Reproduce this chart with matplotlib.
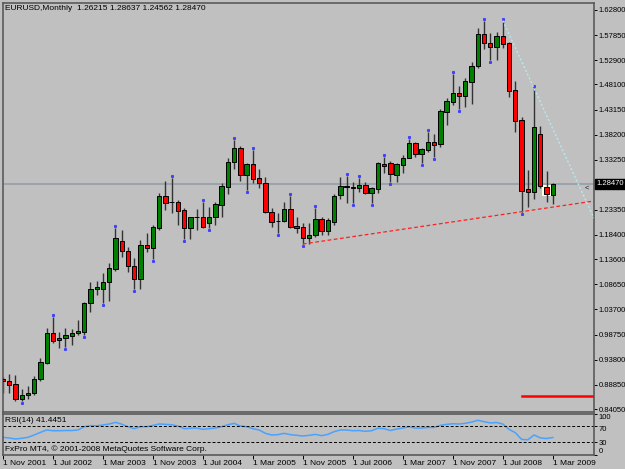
import matplotlib
matplotlib.use("Agg")
import matplotlib.pyplot as plt
import matplotlib.transforms as mtransforms
import numpy as np

plt.rcParams['font.family'] = ['Liberation Sans Narrow', 'Liberation Sans', 'DejaVu Sans']

# EURUSD monthly, Nov 2001 .. Mar 2009
opens = [0.8997, 0.8952, 0.8898, 0.8596, 0.8675, 0.8715, 0.8991, 0.9307, 0.9905, 0.9761,
         0.9812, 0.9852, 0.9899, 0.9931, 1.0491, 1.0780, 1.0774, 1.0918, 1.1168, 1.1721,
         1.1523, 1.1227, 1.0977, 1.1648, 1.1577, 1.1983, 1.2609, 1.2491, 1.2485, 1.2327,
         1.1977, 1.2194, 1.2200, 1.2070, 1.2188, 1.2426, 1.2793, 1.3274, 1.3562, 1.3023,
         1.3235, 1.2958, 1.2866, 1.2299, 1.2116, 1.2122, 1.2347, 1.2017, 1.1991, 1.1786,
         1.1839, 1.2155, 1.1918, 1.2102, 1.2629, 1.2781, 1.2787, 1.2767, 1.2820, 1.2674,
         1.2753, 1.3241, 1.3266, 1.3029, 1.3227, 1.3365, 1.3655, 1.3444, 1.3517, 1.3681,
         1.3629, 1.4273, 1.4470, 1.4636, 1.4583, 1.4865, 1.5181, 1.5800, 1.5623, 1.5556,
         1.5767, 1.5623, 1.4701, 1.4109, 1.2741, 1.2694, 1.3839, 1.2781, 1.26215]
highs = [0.9043, 0.9090, 0.9076, 0.8794, 0.8859, 0.9050, 0.9418, 1.0004, 1.0227, 0.9931,
         0.9998, 0.9984, 1.0162, 1.0523, 1.0906, 1.0937, 1.1083, 1.1281, 1.1971, 1.1938,
         1.1608, 1.1380, 1.1741, 1.1873, 1.2037, 1.2662, 1.2905, 1.2958, 1.2530, 1.2366,
         1.2200, 1.2347, 1.2496, 1.2386, 1.2496, 1.2860, 1.3353, 1.3714, 1.3596, 1.3254,
         1.3517, 1.3136, 1.2990, 1.2366, 1.2268, 1.2496, 1.2615, 1.2200, 1.2070, 1.2070,
         1.2366, 1.2200, 1.2169, 1.2642, 1.2978, 1.3004, 1.2891, 1.2970, 1.2879, 1.2781,
         1.3286, 1.3385, 1.3300, 1.3254, 1.3418, 1.3728, 1.3681, 1.3562, 1.3878, 1.3833,
         1.4320, 1.4537, 1.5011, 1.4780, 1.4932, 1.5248, 1.5919, 1.6063, 1.5832, 1.5852,
         1.6069, 1.5654, 1.4879, 1.4162, 1.3122, 1.4735, 1.3991, 1.3102, 1.28637]
lows = [0.8727, 0.8727, 0.8557, 0.8557, 0.8608, 0.8687, 0.8963, 0.9293, 0.9702, 0.9603,
        0.9623, 0.9674, 0.9860, 0.9860, 1.0325, 1.0655, 1.0491, 1.0543, 1.1134, 1.1399,
        1.1103, 1.0780, 1.0768, 1.1510, 1.1360, 1.1938, 1.2333, 1.2268, 1.2037, 1.1760,
        1.1766, 1.1938, 1.1972, 1.1972, 1.2037, 1.2200, 1.2648, 1.3136, 1.2911, 1.2727,
        1.2860, 1.2761, 1.2267, 1.1991, 1.1873, 1.2102, 1.1972, 1.1873, 1.1662, 1.1656,
        1.1806, 1.1839, 1.1839, 1.2037, 1.2550, 1.2477, 1.2465, 1.2694, 1.2643, 1.2477,
        1.2674, 1.3057, 1.2879, 1.2891, 1.3069, 1.3353, 1.3385, 1.3254, 1.3483, 1.3385,
        1.3570, 1.4010, 1.4405, 1.4326, 1.4371, 1.4425, 1.5141, 1.5510, 1.5293, 1.5293,
        1.5524, 1.4557, 1.3878, 1.2299, 1.2386, 1.2544, 1.2761, 1.2496, 1.24562]
closes = [0.8958, 0.8885, 0.8596, 0.8681, 0.8721, 0.8997, 0.9333, 0.9905, 0.9753, 0.9812,
          0.9860, 0.9911, 0.9951, 1.0491, 1.0768, 1.0819, 1.0906, 1.1182, 1.1774, 1.1518,
          1.1221, 1.0977, 1.1642, 1.1589, 1.2003, 1.2609, 1.2477, 1.2485, 1.2319, 1.1983,
          1.2188, 1.2194, 1.2003, 1.2188, 1.2445, 1.2806, 1.3286, 1.3562, 1.3029, 1.3241,
          1.2950, 1.2871, 1.2299, 1.2096, 1.2116, 1.2347, 1.2003, 1.1983, 1.1786, 1.1839,
          1.2155, 1.1918, 1.2129, 1.2615, 1.2806, 1.2800, 1.2767, 1.2820, 1.2674, 1.2761,
          1.3254, 1.3195, 1.3037, 1.3241, 1.3359, 1.3661, 1.3444, 1.3542, 1.3681, 1.3616,
          1.4287, 1.4484, 1.4636, 1.4583, 1.4879, 1.5181, 1.5800, 1.5623, 1.5556, 1.5767,
          1.5603, 1.4687, 1.4089, 1.2714, 1.2694, 1.3965, 1.2806, 1.2648, 1.28470]

rsi = [42.0, 40.2, 37.8, 39.5, 42.0, 47.6, 54.0, 59.8, 58.0, 58.0,
       58.5, 58.5, 59.8, 67.8, 70.3, 70.0, 72.0, 74.4, 78.5, 74.0,
       67.8, 63.0, 67.8, 67.8, 71.0, 74.4, 73.5, 72.5, 69.5, 63.0,
       64.0, 64.5, 61.4, 63.0, 64.5, 67.8, 72.5, 76.0, 69.5, 67.8,
       63.0, 59.8, 51.6, 47.6, 48.4, 51.6, 48.4, 46.8, 45.0, 46.8,
       49.0, 46.0, 49.0, 55.7, 59.8, 59.8, 58.0, 58.5, 56.5, 58.0,
       64.0, 63.0, 58.5, 62.0, 64.5, 67.8, 64.5, 64.5, 66.0, 66.0,
       71.0, 73.5, 75.0, 74.4, 76.0, 79.0, 83.4, 80.0, 77.0, 78.0,
       74.4, 61.4, 53.2, 37.0, 35.8, 47.6, 40.5, 39.0, 41.4451]

# fractal marks (bar index)
up_marks = [8, 18, 27, 32, 37, 40, 46, 50, 55, 57, 61, 65, 68, 72, 77, 80, 85]
down_marks = [3, 10, 13, 16, 21, 24, 29, 33, 39, 44, 48, 56, 59, 62, 67, 69, 73, 78, 83]

date_labels = ["1 Nov 2001", "1 Jul 2002", "1 Mar 2003", "1 Nov 2003", "1 Jul 2004",
               "1 Mar 2005", "1 Nov 2005", "1 Jul 2006", "1 Mar 2007", "1 Nov 2007",
               "1 Jul 2008", "1 Mar 2009"]
price_ticks = [1.62800, 1.57850, 1.52900, 1.48100, 1.43150, 1.38200, 1.33250, 1.23350,
               1.18400, 1.13600, 1.08650, 1.03700, 0.98750, 0.93800, 0.88850, 0.84050]
last_price = 1.28470
support_level = 0.8662

bg = "#C0C0C0"
fs = 6.0
fs_price = 5.5
fig = plt.figure(figsize=(6.25, 4.69), dpi=100, facecolor=bg)
W, H = 625.0, 469.0
ax = fig.add_axes([3 / W, 1 - 411.5 / H, 591 / W, 408.5 / H], facecolor=bg)
ax2 = fig.add_axes([3 / W, 1 - 454.5 / H, 591 / W, 41 / H], facecolor=bg)

n = len(closes)
x = np.arange(n)
xmin, xmax = 0.0, 94.6

# bid line
ax.axhline(last_price, color="#98A2AA", lw=1.3, zorder=1)

# highlight box around selected bar
ax.add_patch(plt.Rectangle((86.3, 1.2611), 1.4, 0.0215, facecolor="#FFFFD8",
                           edgecolor="none", zorder=1.5))

o = np.array(opens); h = np.array(highs); l = np.array(lows); c = np.array(closes)
up = c >= o
ax.vlines(x, l, h, color="#333333", lw=1.0, zorder=2)
ax.bar(x[up], (c - o)[up], bottom=o[up], width=0.7, color="#008000",
       edgecolor="black", lw=0.7, zorder=3)
ax.bar(x[~up], (o - c)[~up], bottom=c[~up], width=0.7, color="#FF0000",
       edgecolor="black", lw=0.7, zorder=3)

# fractal dots
ax.plot(up_marks, h[up_marks] + 0.004, ls="none", marker="s", ms=1.2,
        color="#4040FF", zorder=4)
ax.plot(down_marks, l[down_marks] - 0.004, ls="none", marker="s", ms=1.2,
        color="#4040FF", zorder=4)

# trend lines
a, b = 48, 83
slope = (lows[b] - lows[a]) / (b - a)
ax.plot([a, xmax], [lows[a], lows[a] + slope * (xmax - a)], color="#FF2020",
        lw=0.9, ls=(0, (3, 2)), zorder=4)
a, b = 80, 85
slope = (highs[b] - highs[a]) / (b - a)
ax.plot([a, xmax], [highs[a], highs[a] + slope * (xmax - a)], color="#B8E8F0",
        lw=1.0, ls=(0, (1.5, 1.5)), zorder=4)

# support line
ax.plot([83, xmax], [support_level, support_level], color="#FF0000", lw=1.8, zorder=4)
ax.text(93.4, 1.2767, "<", fontsize=5.5, ha="center", va="center", color="#222222")

ax.set_xlim(xmin, xmax)
ax.set_ylim(0.8356, 1.6418)
ax.set_xticks([])
ax.yaxis.tick_right()
ax.set_yticks(price_ticks)
ax.set_yticklabels(["%.5f" % p for p in price_ticks])
ax.tick_params(axis="y", direction="out", length=2.5, width=0.7, pad=1.0,
               labelsize=fs_price, colors="black")
for s in ax.spines.values():
    s.set_color("#5a5a5a")
    s.set_linewidth(1.2)

trans = mtransforms.blended_transform_factory(ax.transAxes, ax.transData)
ax.text(1.004, last_price, "%.5f" % last_price, transform=trans, fontsize=fs_price,
        color="white", va="center", ha="left",
        bbox=dict(facecolor="black", edgecolor="black", pad=0.8))

fig.text(5 / W, 1 - 8 / H, "EURUSD,Monthly  1.26215 1.28637 1.24562 1.28470",
         fontsize=fs, va="center", ha="left")

# RSI panel
ax2.plot(x, rsi, color="#4AA2FF", lw=1.1)
ax2.axhline(70, color="black", lw=0.7, ls=(0, (3, 2)))
ax2.axhline(30, color="black", lw=0.7, ls=(0, (3, 2)))
ax2.set_xlim(xmin, xmax)
ax2.set_ylim(0, 100)
ax2.yaxis.tick_right()
ax2.set_yticks([100, 70, 30, 0])
ax2.set_yticklabels(["100", "70", "30", "0"])
ax2.tick_params(axis="y", direction="out", length=2.5, width=0.7, pad=1.0, labelsize=fs_price)
ylabs = ax2.get_yticklabels()
ylabs[0].set_va("top")
ylabs[1].set_va("top")
ylabs[3].set_va("bottom")
ax2.set_xticks(np.arange(0, n, 8))
ax2.set_xticklabels(date_labels)
ax2.tick_params(axis="x", direction="out", length=3, width=0.7, pad=1.2, labelsize=fs)
for lab in ax2.get_xticklabels():
    lab.set_ha("left")
for s in ax2.spines.values():
    s.set_color("#5a5a5a")
    s.set_linewidth(1.2)
ax2.text(0.003, 0.82, "RSI(14) 41.4451", transform=ax2.transAxes, fontsize=fs,
         va="center", ha="left")
ax2.text(0.003, 0.13, "FxPro MT4, \u00a9 2001-2008 MetaQuotes Software Corp.",
         transform=ax2.transAxes, fontsize=fs, va="center", ha="left")

fig.savefig("out.png", dpi=100, facecolor=bg)
